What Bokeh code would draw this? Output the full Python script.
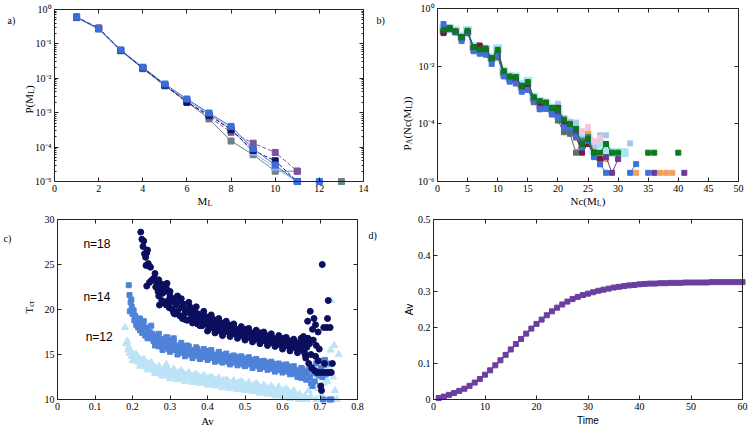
import math
from bokeh.plotting import figure
from bokeh.layouts import column, row
from bokeh.models import (Range1d, FixedTicker, CustomJSTickFormatter, LinearAxis,
                          LogAxis, Label)
from bokeh.embed import file_html
from bokeh.resources import INLINE

NaN = float("nan")
SERIF = "Liberation Serif"
SANS = "Liberation Sans"

# ---------------- Panel a data ----------------
ml = [1, 2, 3, 4, 5, 6, 7, 8, 9, 10, 11]
pa_navy = [0.6, 0.29, 0.065, 0.020, 0.0063, 0.0020, 8.5e-4, 3.2e-4, 8.0e-5, 4.0e-5, 1.0e-5]
pa_blue = [0.6, 0.28, 0.066, 0.021, 0.0068, 0.0025, 9.8e-4, 4.0e-4, 9.0e-5, 3.0e-5, 1.0e-5]
pa_light = [0.6, 0.27, 0.064, 0.020, 0.0062, 0.0023, 9.0e-4, 3.5e-4, 7.0e-5, 2.5e-5, 1.0e-5]
pa_grey = [0.58, 0.27, 0.063, 0.019, 0.0060, 0.0021, 6.6e-4, 1.5e-4, 6.0e-5, 2.0e-5, 2.0e-5]
pa_purple = [0.6, 0.28, 0.065, 0.020, 0.0065, 0.0021, 7.5e-4, 2.7e-4, 1.3e-4, 7.0e-5, 2.0e-5]
ml_tail = [12, 13]
pa_tail = [1.0e-5, 1.0e-5]
pa_xticks = [0, 2, 4, 6, 8, 10, 12, 14]
pa_yticks = [1e-5, 1e-4, 1e-3, 1e-2, 1e-1, 1.0]

# ---------------- Panel b data ----------------
pb_green_x = list(range(1, 31)) + [NaN, 35, 36, NaN, 40]
pb_green_y = [0.18, 0.21, 0.16, 0.10, 0.17, 0.046, 0.038, 0.041, 0.019, 0.037,
              0.0067, 0.0044, 0.0042, 0.0021, 0.0028, 8.3e-4, 6.1e-4, 5.5e-4, 3.6e-4, 3.2e-4,
              1.4e-4, 1.0e-4, 6.7e-5, 2.0e-5, 3.0e-5, 1.0e-5, 1.0e-5, 2.0e-5, 1.0e-5, 1.0e-5,
              NaN, 1.0e-5, 1.0e-5, NaN, 1.0e-5]
pb_blue_x = list(range(1, 29)) + [NaN, 32, 33, NaN, 35]
pb_blue_y = [0.29, 0.21, 0.15, 0.074, 0.15, 0.033, 0.027, 0.025, 0.012, 0.024,
             0.0044, 0.0029, 0.0025, 0.0013, 0.0015, 6.4e-4, 3.3e-4, 3.6e-4, 2.2e-4, 1.7e-4,
             7.6e-5, 6.7e-5, 3.5e-5, 1.5e-5, 2.6e-5, 7.0e-6, 4.0e-6, 2.0e-6,
             NaN, 2.0e-6, 4.0e-6, NaN, 2.0e-6]
pb_maroon_x = list(range(1, 28))
pb_maroon_y = [0.14, 0.21, 0.16, 0.10, 0.14, 0.046, 0.052, 0.035, 0.018, 0.027,
               0.0060, 0.0036, 0.0032, 0.0018, 0.0018, 6.8e-4, 4.0e-4, 4.3e-4, 2.5e-4, 3.6e-4,
               1.0e-4, 7.7e-5, 3.5e-5, 1.0e-5, 2.0e-5, 1.0e-5, 6.0e-6]
pb_grey_x = list(range(1, 28))
pb_grey_y = [0.15, 0.19, 0.15, 0.09, 0.15, 0.035, 0.032, 0.030, 0.018, 0.020,
             0.0048, 0.0033, 0.0030, 0.0016, 0.0016, 5.6e-4, 4.0e-4, 3.3e-4, 2.1e-4, 1.3e-4,
             5.1e-5, 4.5e-5, 1.0e-5, 2.6e-5, 3.5e-5, 8.0e-6, 5.4e-6]
pb_purple_x = list(range(1, 31)) + [NaN, 36, NaN, 41]
pb_purple_y = [0.16, 0.20, 0.15, 0.09, 0.15, 0.040, 0.045, 0.032, 0.017, 0.025,
               0.0055, 0.0035, 0.0033, 0.0017, 0.0020, 7.0e-4, 3.2e-4, 4.5e-4, 2.6e-4, 2.2e-4,
               9.0e-5, 6.7e-5, 5.0e-5, 1.2e-5, 2.0e-5, 8.0e-6, 4.0e-6, 7.0e-6, 2.0e-6, 6.0e-6,
               NaN, 2.0e-6, NaN, 2.0e-6]
pb_orange_x = list(range(1, 29)) + [NaN, 33, NaN, 37, 38, 39]
pb_orange_y = [0.15, 0.20, 0.16, 0.10, 0.15, 0.042, 0.048, 0.036, 0.018, 0.028,
               0.0058, 0.0037, 0.0034, 0.0019, 0.0021, 7.2e-4, 4.1e-4, 4.4e-4, 2.7e-4, 2.5e-4,
               9.5e-5, 7.0e-5, 3.2e-5, 1.6e-5, 4.6e-5, 1.0e-5, 4.0e-6, 6.0e-6,
               NaN, 2.0e-6, NaN, 2.0e-6, 2.0e-6, 2.0e-6]
pb_light_x = list(range(1, 29)) + [NaN, 32]
pb_light_y = [0.20, 0.22, 0.17, 0.11, 0.16, 0.045, 0.040, 0.040, 0.020, 0.035,
              0.0062, 0.0042, 0.0040, 0.0022, 0.0026, 8.0e-4, 5.5e-4, 5.0e-4, 3.5e-4, 5.0e-4,
              1.5e-4, 1.2e-4, 1.1e-4, 3.0e-5, 4.0e-5, 1.5e-5, 4.0e-5, 4.0e-5, NaN, 2.1e-5]
pb_cyan_x = list(range(1, 32))
pb_cyan_y = [0.19, 0.20, 0.17, 0.11, 0.17, 0.048, 0.040, 0.039, 0.020, 0.040,
             0.0065, 0.0045, 0.0042, 0.0023, 0.0030, 8.5e-4, 6.0e-4, 5.2e-4, 3.5e-4, 3.2e-4,
             1.4e-4, 1.0e-4, 6.0e-5, 3.0e-5, 3.5e-5, 1.2e-5, 2.0e-5, 1.2e-5, 1.0e-5, 1.0e-5, 1.0e-5]
pb_pink_x = [20, 21, 22, 23, 24, 25, 26, 27]
pb_pink_y = [3.4e-4, 1.2e-4, 9.0e-5, 6.0e-5, 5.5e-5, 7.7e-5, 2.5e-5, 3.2e-5]
pb_xticks = [0, 5, 10, 15, 20, 25, 30, 35, 40, 45, 50]
pb_yticks = [1e-6, 1e-4, 1e-2, 1.0]

# ---------------- Panel c data ----------------
c18 = [(0.222, 28.6), (0.225, 27.8), (0.228, 27.0), (0.230, 27.6), (0.232, 26.2), (0.235, 25.8),
       (0.238, 26.3), (0.240, 26.6), (0.236, 24.9), (0.242, 25.1), (0.245, 24.8), (0.248, 24.7),
       (0.238, 22.6), (0.245, 23.0), (0.250, 23.2), (0.255, 23.4), (0.258, 23.5), (0.262, 22.5),
       (0.265, 22.9), (0.268, 22.0), (0.270, 21.5), (0.272, 20.5), (0.275, 22.3), (0.278, 21.0),
       (0.280, 21.8), (0.283, 20.8), (0.286, 22.0), (0.290, 20.5), (0.292, 22.9), (0.295, 21.0),
       (0.298, 20.2), (0.300, 21.5), (0.303, 20.8), (0.306, 20.0), (0.310, 21.2), (0.313, 19.5),
       (0.316, 20.5), (0.320, 19.8), (0.323, 20.9), (0.326, 19.3), (0.330, 20.2), (0.333, 19.0),
       (0.336, 20.6), (0.340, 19.6), (0.343, 20.0), (0.346, 18.8), (0.350, 19.8), (0.353, 20.3),
       (0.356, 19.0), (0.360, 19.4), (0.363, 18.6), (0.366, 19.9), (0.370, 19.2), (0.373, 18.4),
       (0.376, 19.5), (0.380, 18.8), (0.383, 19.3), (0.386, 18.2), (0.390, 18.9), (0.393, 18.5),
       (0.396, 19.2), (0.400, 18.3), (0.403, 18.8), (0.406, 17.9), (0.410, 18.6), (0.413, 18.2),
       (0.416, 18.9), (0.420, 17.8), (0.423, 18.4), (0.426, 18.0), (0.430, 18.7), (0.433, 17.6),
       (0.436, 18.2), (0.440, 17.9), (0.443, 18.5), (0.446, 17.5), (0.450, 18.0), (0.453, 17.7),
       (0.456, 18.3), (0.460, 17.4), (0.463, 17.9), (0.466, 17.6), (0.470, 18.1), (0.473, 17.3),
       (0.476, 17.8), (0.480, 17.5), (0.483, 17.1), (0.486, 17.7), (0.490, 17.3), (0.493, 17.6),
       (0.496, 17.0), (0.500, 17.4), (0.503, 17.8), (0.506, 17.2), (0.510, 16.9), (0.513, 17.5),
       (0.516, 17.1), (0.520, 16.8), (0.523, 17.3), (0.526, 17.0), (0.530, 16.7), (0.533, 17.2),
       (0.536, 16.9), (0.540, 17.4), (0.543, 16.6), (0.546, 17.0), (0.550, 16.8), (0.553, 16.5),
       (0.556, 17.1), (0.560, 16.7), (0.563, 16.4), (0.566, 16.9), (0.570, 16.6), (0.573, 16.3),
       (0.576, 16.8), (0.580, 16.5), (0.583, 16.2), (0.586, 16.7), (0.590, 16.4), (0.593, 16.1),
       (0.596, 16.6), (0.600, 16.3), (0.603, 16.8), (0.606, 16.0), (0.610, 16.4), (0.613, 16.2),
       (0.616, 15.9), (0.620, 16.5), (0.623, 16.1), (0.626, 15.8), (0.630, 16.3), (0.633, 16.0),
       (0.636, 15.7), (0.640, 16.2), (0.643, 15.9), (0.646, 16.4), (0.650, 15.6), (0.653, 16.1),
       (0.656, 17.0), (0.658, 15.3), (0.660, 16.5), (0.662, 14.6), (0.665, 15.8), (0.667, 18.7),
       (0.668, 16.8), (0.670, 14.0), (0.672, 16.2), (0.674, 19.8), (0.676, 15.0), (0.678, 13.5),
       (0.680, 17.8), (0.682, 16.6), (0.684, 19.0), (0.686, 13.2), (0.688, 14.8), (0.690, 16.0),
       (0.692, 13.0), (0.695, 14.3), (0.698, 15.6), (0.700, 13.0), (0.702, 11.5), (0.704, 11.0),
       (0.706, 25.0), (0.708, 13.0), (0.710, 18.0), (0.712, 14.0), (0.716, 13.0), (0.718, 18.0),
       (0.720, 19.0), (0.722, 21.0), (0.724, 13.0), (0.727, 18.0), (0.730, 13.0), (0.733, 14.0),
       (0.695, 17.5), (0.688, 18.3)]
c18_extra = [(0.26, 24.0), (0.27, 23.3), (0.28, 22.8), (0.29, 22.4), (0.30, 22.0), (0.31, 19.6),
             (0.32, 21.5), (0.33, 21.2), (0.34, 18.9), (0.35, 20.8), (0.36, 18.5), (0.37, 20.3),
             (0.38, 18.2), (0.39, 19.8), (0.40, 17.6), (0.41, 19.4), (0.42, 17.4), (0.43, 19.0),
             (0.44, 17.1), (0.45, 18.7), (0.46, 17.0), (0.47, 18.4), (0.48, 16.8), (0.49, 18.1),
             (0.50, 16.6), (0.51, 17.9), (0.52, 16.4), (0.53, 17.7), (0.54, 16.2), (0.55, 17.5),
             (0.56, 16.0), (0.57, 17.3), (0.58, 15.9), (0.59, 17.1), (0.60, 15.6), (0.61, 16.9),
             (0.62, 15.4), (0.63, 16.7), (0.64, 15.2), (0.65, 16.8), (0.66, 15.0), (0.345, 19.7),
             (0.355, 19.6), (0.425, 18.5), (0.505, 17.6), (0.585, 16.6)]
c14 = [(0.190, 22.7), (0.192, 21.6), (0.195, 20.8), (0.197, 21.1), (0.193, 19.8), (0.198, 20.3),
       (0.200, 19.5), (0.203, 19.9), (0.205, 18.8), (0.207, 19.3), (0.210, 18.3), (0.212, 19.0),
       (0.215, 18.0), (0.218, 18.6), (0.220, 17.7), (0.223, 18.2), (0.226, 17.4), (0.228, 18.5),
       (0.231, 17.9), (0.234, 17.1), (0.237, 17.6), (0.240, 18.0), (0.243, 17.0), (0.246, 17.5),
       (0.250, 16.8), (0.253, 17.3), (0.256, 16.5), (0.260, 17.1), (0.263, 16.2), (0.266, 16.8),
       (0.270, 15.9), (0.273, 16.5), (0.276, 16.1), (0.280, 16.7), (0.283, 15.8), (0.286, 16.4),
       (0.290, 16.0), (0.293, 16.9), (0.296, 15.6), (0.300, 16.2), (0.303, 16.6), (0.306, 15.8),
       (0.310, 16.3), (0.313, 15.5), (0.316, 16.0), (0.320, 15.4), (0.323, 15.9), (0.326, 15.2),
       (0.330, 15.7), (0.333, 15.4), (0.336, 15.9), (0.340, 15.1), (0.343, 15.6), (0.346, 16.0),
       (0.350, 15.3), (0.353, 15.0), (0.356, 15.5), (0.360, 15.2), (0.363, 14.9), (0.366, 15.4),
       (0.370, 15.1), (0.373, 15.6), (0.376, 14.8), (0.380, 15.3), (0.383, 15.0), (0.386, 14.7),
       (0.390, 15.2), (0.393, 14.9), (0.396, 15.4), (0.400, 14.7), (0.403, 15.1), (0.406, 14.8),
       (0.410, 15.2), (0.413, 14.6), (0.416, 15.0), (0.420, 14.7), (0.423, 14.4), (0.426, 14.9),
       (0.430, 14.6), (0.433, 15.0), (0.436, 14.3), (0.440, 14.8), (0.443, 14.5), (0.446, 14.9),
       (0.450, 14.4), (0.453, 14.7), (0.456, 14.2), (0.460, 14.6), (0.463, 14.4), (0.466, 14.8),
       (0.470, 14.1), (0.473, 14.5), (0.476, 14.3), (0.480, 14.7), (0.483, 14.0), (0.486, 14.4),
       (0.490, 14.2), (0.493, 14.6), (0.496, 13.9), (0.500, 14.3), (0.503, 14.1), (0.506, 14.5),
       (0.510, 13.9), (0.513, 14.2), (0.516, 14.0), (0.520, 14.4), (0.523, 13.8), (0.526, 14.1),
       (0.530, 13.9), (0.533, 14.3), (0.536, 13.7), (0.540, 14.0), (0.543, 13.8), (0.546, 14.2),
       (0.550, 13.6), (0.553, 13.9), (0.556, 13.7), (0.560, 14.1), (0.563, 13.5), (0.566, 13.8),
       (0.570, 13.6), (0.573, 14.0), (0.576, 13.4), (0.580, 13.7), (0.583, 13.5), (0.586, 13.9),
       (0.590, 13.3), (0.593, 13.6), (0.596, 13.4), (0.600, 13.8), (0.603, 13.2), (0.606, 13.5),
       (0.610, 13.3), (0.613, 13.7), (0.616, 13.1), (0.620, 13.4), (0.623, 13.2), (0.626, 13.6),
       (0.630, 13.0), (0.633, 13.3), (0.636, 12.8), (0.640, 13.2), (0.643, 12.6), (0.646, 13.0),
       (0.650, 12.4), (0.653, 13.4), (0.656, 12.7), (0.660, 13.1), (0.663, 12.2), (0.666, 12.9),
       (0.670, 13.3), (0.673, 12.5), (0.676, 11.8), (0.678, 13.6), (0.680, 11.5), (0.683, 12.9),
       (0.686, 12.0), (0.690, 14.0), (0.693, 13.2), (0.696, 12.7), (0.700, 14.3), (0.703, 13.5),
       (0.706, 12.5), (0.708, 10.0), (0.710, 13.8), (0.713, 14.4), (0.716, 12.8), (0.720, 14.0),
       (0.725, 10.0), (0.730, 10.0)]
c14_extra = [(0.22, 19.0), (0.23, 18.7), (0.24, 16.8), (0.25, 18.2), (0.26, 16.0), (0.27, 17.3),
             (0.28, 15.5), (0.29, 16.9), (0.30, 15.3), (0.31, 16.8), (0.32, 15.0), (0.33, 16.3),
             (0.34, 14.8), (0.35, 15.9), (0.36, 14.6), (0.37, 15.8), (0.38, 14.5), (0.39, 15.6),
             (0.40, 14.4), (0.41, 15.5), (0.42, 14.2), (0.43, 15.3), (0.44, 14.1), (0.45, 15.1),
             (0.46, 13.9), (0.47, 14.9), (0.48, 13.8), (0.49, 14.8), (0.50, 13.7), (0.51, 14.7),
             (0.52, 13.5), (0.53, 14.5), (0.54, 13.4), (0.55, 14.3), (0.56, 13.3), (0.57, 14.2),
             (0.58, 13.1), (0.59, 14.0), (0.60, 13.0), (0.61, 13.9), (0.62, 12.8), (0.63, 13.7),
             (0.64, 12.5), (0.65, 13.5)]
c12 = [(0.180, 18.0), (0.183, 16.2), (0.186, 16.5), (0.188, 15.5), (0.190, 15.8), (0.192, 15.1),
       (0.195, 15.4), (0.198, 14.8), (0.200, 15.1), (0.203, 14.5), (0.206, 14.9), (0.210, 14.3),
       (0.213, 14.7), (0.216, 14.1), (0.220, 14.5), (0.223, 13.9), (0.226, 14.3), (0.230, 13.8),
       (0.233, 14.1), (0.236, 13.6), (0.240, 14.0), (0.243, 13.5), (0.246, 13.8), (0.250, 13.3),
       (0.253, 13.7), (0.256, 13.2), (0.260, 13.6), (0.263, 13.1), (0.266, 13.4), (0.270, 13.0),
       (0.273, 13.3), (0.276, 12.8), (0.280, 13.2), (0.283, 12.7), (0.286, 13.5), (0.290, 13.9),
       (0.293, 12.9), (0.296, 13.3), (0.300, 12.6), (0.303, 13.0), (0.306, 12.7), (0.310, 13.1),
       (0.313, 12.5), (0.316, 12.9), (0.320, 12.6), (0.323, 13.0), (0.326, 12.4), (0.330, 12.8),
       (0.333, 12.5), (0.336, 12.9), (0.340, 12.3), (0.343, 12.7), (0.346, 12.4), (0.350, 12.8),
       (0.353, 12.2), (0.356, 12.6), (0.360, 12.3), (0.363, 12.7), (0.366, 12.1), (0.370, 12.5),
       (0.373, 12.2), (0.376, 12.6), (0.380, 12.0), (0.383, 12.4), (0.386, 12.1), (0.390, 12.5),
       (0.393, 11.9), (0.396, 12.3), (0.400, 12.0), (0.403, 12.4), (0.406, 11.8), (0.410, 12.2),
       (0.413, 11.9), (0.416, 12.3), (0.420, 11.7), (0.423, 12.1), (0.426, 11.8), (0.430, 12.2),
       (0.433, 11.6), (0.436, 12.0), (0.440, 11.7), (0.443, 12.1), (0.446, 11.5), (0.450, 11.9),
       (0.453, 11.6), (0.456, 12.0), (0.460, 11.5), (0.463, 11.8), (0.466, 11.5), (0.470, 11.9),
       (0.473, 11.4), (0.476, 11.7), (0.480, 11.5), (0.483, 11.9), (0.486, 11.3), (0.490, 11.6),
       (0.493, 11.4), (0.496, 11.8), (0.500, 11.2), (0.503, 11.5), (0.506, 11.3), (0.510, 11.7),
       (0.513, 11.1), (0.516, 11.4), (0.520, 11.2), (0.523, 11.6), (0.526, 11.0), (0.530, 11.3),
       (0.533, 11.1), (0.536, 11.5), (0.540, 10.9), (0.543, 11.2), (0.546, 11.0), (0.550, 11.4),
       (0.553, 10.8), (0.556, 11.1), (0.560, 10.9), (0.563, 11.3), (0.566, 10.7), (0.570, 11.0),
       (0.573, 10.8), (0.576, 11.2), (0.580, 10.6), (0.583, 10.9), (0.586, 10.7), (0.590, 11.1),
       (0.593, 10.5), (0.596, 10.8), (0.600, 10.6), (0.603, 11.0), (0.606, 10.4), (0.610, 10.7),
       (0.613, 10.5), (0.616, 10.9), (0.620, 10.3), (0.623, 10.6), (0.626, 10.4), (0.630, 10.8),
       (0.633, 10.2), (0.636, 10.5), (0.640, 10.3), (0.643, 10.0), (0.646, 10.6), (0.650, 10.2),
       (0.655, 10.0), (0.660, 10.4), (0.665, 10.0), (0.670, 11.0), (0.675, 10.3), (0.680, 11.5),
       (0.685, 12.0), (0.690, 10.0), (0.695, 11.2), (0.700, 12.5), (0.705, 10.5), (0.710, 11.8),
       (0.715, 12.2), (0.720, 12.0), (0.725, 13.5), (0.728, 15.5), (0.730, 21.0), (0.735, 12.5),
       (0.738, 16.0), (0.740, 11.0), (0.745, 10.0), (0.750, 15.0), (0.735, 10.0)]
c12_extra = [(0.20, 14.3), (0.21, 15.0), (0.22, 13.7), (0.23, 14.5), (0.24, 13.3), (0.25, 14.1),
             (0.26, 12.9), (0.27, 13.7), (0.28, 12.6), (0.29, 13.3), (0.30, 12.3), (0.31, 13.4),
             (0.32, 12.2), (0.33, 13.2), (0.34, 12.0), (0.35, 13.0), (0.36, 11.9), (0.37, 12.8),
             (0.38, 11.8), (0.39, 12.7), (0.40, 11.6), (0.41, 12.5), (0.42, 11.5), (0.43, 12.4),
             (0.44, 11.3), (0.45, 12.2), (0.46, 11.2), (0.47, 12.1), (0.48, 11.1), (0.49, 12.0),
             (0.50, 11.0), (0.51, 11.9), (0.52, 10.9), (0.53, 11.8), (0.54, 10.7), (0.55, 11.6),
             (0.56, 10.6), (0.57, 11.5), (0.58, 10.4), (0.59, 11.4), (0.60, 10.3), (0.61, 11.2),
             (0.62, 10.1), (0.63, 11.0)]
c_labels = ["n=18", "n=14", "n=12"]
c_label_x = [0.069, 0.069, 0.075]
c_label_y = [27.3, 21.4, 17.0]
pc_xticks = [0, 0.1, 0.2, 0.3, 0.4, 0.5, 0.6, 0.7, 0.8]
pc_yticks = [10, 15, 20, 25, 30]

# ---------------- Panel d data ----------------
time = list(range(1, 61))
av = [0.004, 0.008, 0.013, 0.018, 0.024, 0.030, 0.038, 0.047, 0.057, 0.069,
      0.081, 0.095, 0.109, 0.124, 0.139, 0.154, 0.168, 0.183, 0.197, 0.210,
      0.222, 0.234, 0.245, 0.255, 0.264, 0.272, 0.279, 0.285, 0.290, 0.294,
      0.298, 0.302, 0.305, 0.308, 0.311, 0.313, 0.315, 0.317, 0.318, 0.320,
      0.321, 0.322, 0.322, 0.323, 0.323, 0.324, 0.324, 0.324, 0.325, 0.325,
      0.325, 0.325, 0.325, 0.326, 0.326, 0.326, 0.326, 0.326, 0.326, 0.326]
pd_xticks = [0, 10, 20, 30, 40, 50, 60]
pd_yticks = [0, 0.1, 0.2, 0.3, 0.4, 0.5]

# ---------------- helpers ----------------
SUP = CustomJSTickFormatter(code="""
const m = {"-":"\u207b","0":"\u2070","1":"\u00b9","2":"\u00b2","3":"\u00b3","4":"\u2074",
           "5":"\u2075","6":"\u2076","7":"\u2077","8":"\u2078","9":"\u2079"};
const e = Math.round(Math.log10(tick));
let s = "";
for (const c of String(e)) { s += m[c]; }
return "10" + s;
""")
ONE_DEC = CustomJSTickFormatter(code="return tick == 0 ? '0' : tick.toFixed(1);")
BLANK = CustomJSTickFormatter(code="return '';")
AX = "#222222"
H = 213


def make_fig(width, box, xr, yr, ylog):
    """box = (left, right, top, bottom) pixel edges of the plot box in the canvas.
    The frame fills the whole canvas; the ranges are widened so that xr/yr map onto the box."""
    L, R, T, B = box
    a, b = xr
    ppu = (R - L) / (b - a)
    x_range = Range1d(a - L / ppu, b + (width - R) / ppu)
    lo, hi = yr
    if ylog:
        l0, l1 = math.log10(lo), math.log10(hi)
        ppd = (B - T) / (l1 - l0)
        y_range = Range1d(10 ** (l0 - (H - B) / ppd), 10 ** (l1 + T / ppd))
    else:
        ppd = (B - T) / (hi - lo)
        y_range = Range1d(lo - (H - B) / ppd, hi + T / ppd)
    p = figure(width=width, height=H, x_range=x_range, y_range=y_range,
               y_axis_type="log" if ylog else "linear", output_backend="svg",
               toolbar_location=None, x_axis_location=None, y_axis_location=None,
               min_border=0, min_border_left=0, min_border_right=0,
               min_border_top=0, min_border_bottom=0)
    p.outline_line_color = None
    p.background_fill_color = "white"
    p.border_fill_color = "white"
    for g in p.grid:
        g.visible = False
    return p


def add_axes(p, xr, yr, ylog, xticker, yticker, xfmt=None, yfmt=None):
    a, b = xr
    lo, hi = yr
    YA = LogAxis if ylog else LinearAxis
    bottom = LinearAxis(fixed_location=lo, bounds=(a, b), ticker=xticker)
    top = LinearAxis(fixed_location=hi, bounds=(a, b), ticker=xticker, formatter=BLANK)
    left = YA(fixed_location=a, bounds=(lo, hi), ticker=yticker)
    right = YA(fixed_location=b, bounds=(lo, hi), ticker=yticker, formatter=BLANK)
    if xfmt is not None:
        bottom.formatter = xfmt
    if yfmt is not None:
        left.formatter = yfmt
    p.add_layout(bottom, "below")
    p.add_layout(top, "above")
    p.add_layout(left, "left")
    p.add_layout(right, "right")
    for ax in (bottom, top, left, right):
        ax.axis_line_color = AX
        ax.major_tick_line_color = AX
        ax.minor_tick_line_color = AX
        ax.major_tick_in = 4
        ax.major_tick_out = 0
        ax.minor_tick_in = 2
        ax.minor_tick_out = 0
        ax.major_label_standoff = 3
        ax.major_label_text_font = SERIF
        ax.major_label_text_font_size = "10px"
        ax.major_label_text_color = "black"


def lab(p, x, y, text, xo=0, yo=0, size=11, font=SERIF, angle=0.0, align="left"):
    p.add_layout(Label(x=x, y=y, x_offset=xo, y_offset=yo, text=text, angle=angle,
                       text_font=font, text_font_size=f"{size}px", text_align=align,
                       text_baseline="middle", text_color="black"))


R90 = math.pi / 2

# ---------------- Panel a ----------------
pa = make_fig(374, (54, 363, 9, 181), (0, 14), (1e-5, 1.0), True)
pa_minor = [k * 10.0 ** e for e in range(-5, 0) for k in range(2, 10)]
add_axes(pa, (0, 14), (1e-5, 1.0), True, FixedTicker(ticks=pa_xticks, minor_ticks=[]),
         FixedTicker(ticks=pa_yticks, minor_ticks=pa_minor), yfmt=SUP)
for ys, col, dash in [(pa_grey, "#6d808a", "solid"), (pa_light, "#8fa8d8", "solid"),
                      (pa_purple, "#7e519e", "4 2"), (pa_navy, "#14136b", "4 2"),
                      (pa_blue, "#3a6ed8", "solid")]:
    pa.line(ml, ys, line_color=col, line_width=1, line_dash=dash)
    pa.scatter(ml, ys, marker="square", size=6, fill_color=col, line_color=col)
pa.scatter(ml_tail, pa_tail, marker="square", size=6,
           fill_color=["#3a6ed8", "#6d808a"], line_color=["#3a6ed8", "#6d808a"])
lab(pa, 0, 1.0, "a)", xo=-47, yo=-11, size=10)
lab(pa, 0, 1e-5, "M", xo=143, yo=-19)
lab(pa, 0, 1e-5, "L", xo=153, yo=-22, size=8)
lab(pa, 0, 1.0, "P(M", xo=-26, yo=-104, angle=R90)
lab(pa, 0, 1.0, "L", xo=-23, yo=-84.4, size=8, angle=R90)
lab(pa, 0, 1.0, ")", xo=-26, yo=-79.5, angle=R90)

# ---------------- Panel b ----------------
pb = make_fig(374, (63, 364, 8, 181), (0, 50), (1e-6, 1.0), True)
add_axes(pb, (0, 50), (1e-6, 1.0), True, FixedTicker(ticks=pb_xticks, minor_ticks=[]),
         FixedTicker(ticks=pb_yticks, minor_ticks=[]), yfmt=SUP)
pb.line(pb_cyan_x, pb_cyan_y, line_color="#a8e6f6", line_width=1)
pb.scatter(pb_cyan_x, pb_cyan_y, marker="square", size=8, fill_color="#a8e6f6", line_color="#a8e6f6")
for xs, ys, col in [(pb_light_x, pb_light_y, "#aac6ee"), (pb_pink_x, pb_pink_y, "#f2c6d6"),
                    (pb_orange_x, pb_orange_y, "#eea060"), (pb_grey_x, pb_grey_y, "#5a7070"),
                    (pb_purple_x, pb_purple_y, "#6a3a96"), (pb_maroon_x, pb_maroon_y, "#7a1640"),
                    (pb_blue_x, pb_blue_y, "#3e72d8"), (pb_green_x, pb_green_y, "#0a7a1a")]:
    pb.line(xs, ys, line_color=col, line_width=1)
    pb.scatter(xs, ys, marker="square", size=5, fill_color=col, line_color=col)
lab(pb, 0, 1.0, "b)", xo=-61, yo=-12, size=10)
lab(pb, 0, 1e-6, "Nc(M", xo=133, yo=-19)
lab(pb, 0, 1e-6, "L", xo=159.3, yo=-22, size=8)
lab(pb, 0, 1e-6, ")", xo=164.2, yo=-19)
lab(pb, 0, 1.0, "P", xo=-31, yo=-142, angle=R90)
lab(pb, 0, 1.0, "A", xo=-28, yo=-135.9, size=8, angle=R90)
lab(pb, 0, 1.0, "(Nc(M", xo=-31, yo=-130.1, angle=R90)
lab(pb, 0, 1.0, "L", xo=-28, yo=-100.3, size=8, angle=R90)
lab(pb, 0, 1.0, "))", xo=-31, yo=-95.4, angle=R90)

# ---------------- Panel c ----------------
pc = make_fig(366, (57, 357, 6, 186), (0, 0.8), (10, 30), False)
add_axes(pc, (0, 0.8), (10, 30), False, FixedTicker(ticks=pc_xticks, minor_ticks=[]),
         FixedTicker(ticks=pc_yticks, minor_ticks=[]), xfmt=ONE_DEC)
c12_all = c12 + c12_extra
c14_all = c14 + c14_extra
c18_all = c18 + c18_extra
pc.scatter([a for a, _ in c12_all], [b for _, b in c12_all], marker="triangle", size=7,
           fill_color="#bde3f7", line_color="#bde3f7")
pc.scatter([a for a, _ in c14_all], [b for _, b in c14_all], marker="square", size=5,
           fill_color="#4f82d8", line_color="#4f82d8")
pc.scatter([a for a, _ in c18_all], [b for _, b in c18_all], marker="circle", size=6,
           fill_color="#0b0f5e", line_color="#0b0f5e")
for t, x, y in zip(c_labels, c_label_x, c_label_y):
    lab(pc, x, y, t, size=12, font=SANS)
lab(pc, 0, 30, "c)", xo=-54, yo=-19, size=10)
lab(pc, 0.4, 10, "Av", yo=-21, align="center")
lab(pc, 0, 30, "T", xo=-29, yo=-94, angle=R90)
lab(pc, 0, 30, "cr", xo=-26, yo=-87.3, size=8, angle=R90)

# ---------------- Panel d ----------------
pdf = make_fig(382, (67, 376, 6, 186), (0, 60), (0, 0.5), False)
add_axes(pdf, (0, 60), (0, 0.5), False, FixedTicker(ticks=pd_xticks, minor_ticks=[]),
         FixedTicker(ticks=pd_yticks, minor_ticks=[]), yfmt=ONE_DEC)
pdf.line(time, av, line_color="#6b3fa0", line_width=1.5)
pdf.scatter(time, av, marker="square", size=5, fill_color="#6b3fa0", line_color="#6b3fa0")
lab(pdf, 0, 0.5, "d)", xo=-65, yo=-16, size=10)
lab(pdf, 30, 0, "Time", yo=-21, size=10, font=SANS, align="center")
lab(pdf, 0, 0.25, "Av", xo=-24.5, size=10, font=SANS, angle=R90, align="center")

layout = column(row(pa, pb), row(pc, pdf))
open("out.html", "w").write(file_html(layout, INLINE))
